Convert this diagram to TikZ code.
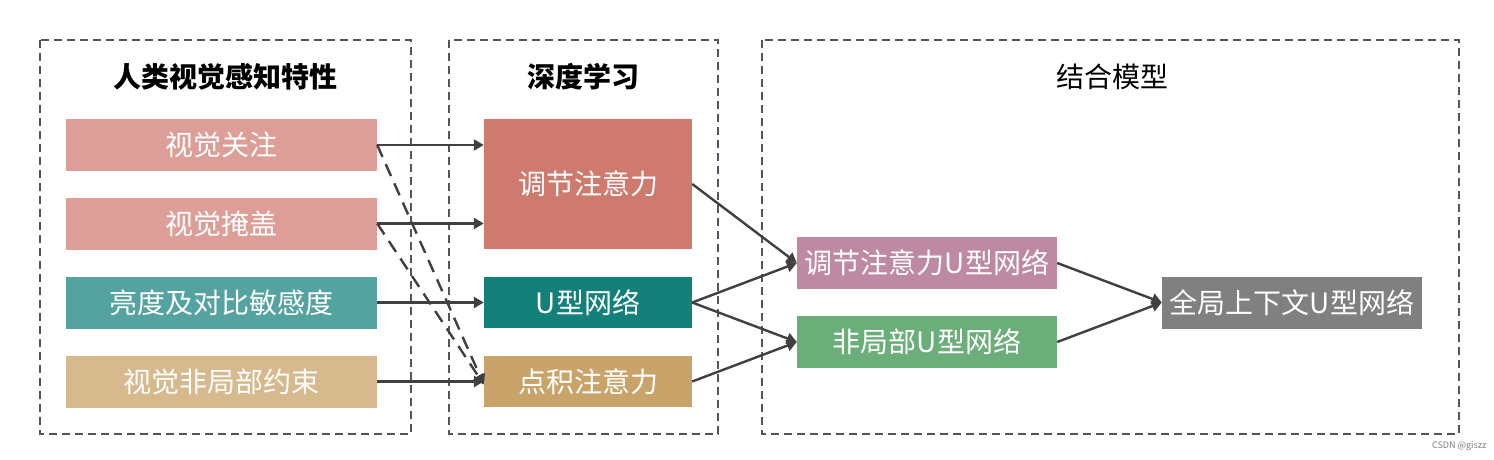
\documentclass[tikz,border=0pt]{standalone}
\usepackage{fontspec}
\setmainfont{Noto Sans CJK SC}
\usetikzlibrary{arrows.meta}
\definecolor{pinkA}{HTML}{DE9E98}
\definecolor{tealA}{HTML}{54A3A0}
\definecolor{tanA}{HTML}{D6B98C}
\definecolor{redB}{HTML}{CE7A6E}
\definecolor{tealB}{HTML}{138079}
\definecolor{tanB}{HTML}{C9A46A}
\definecolor{mauveC}{HTML}{BE8AA3}
\definecolor{greenC}{HTML}{6BAE79}
\definecolor{grayC}{HTML}{808080}
\definecolor{lineC}{HTML}{404040}
\definecolor{frameC}{HTML}{555555}
\tikzset{
  x=1pt,y=-1pt,
  frame/.style={draw=frameC,line width=1.4pt,dash pattern=on 8pt off 5pt},
  box/.style={inner sep=0pt,text=white,font=\fontsize{28}{32}\selectfont},
  lbox/.style={box,minimum width=311pt,minimum height=52pt},
  mbox/.style={box,minimum width=208pt,minimum height=51pt},
  rbox/.style={box,minimum width=260pt,minimum height=52pt},
  title/.style={font=\fontsize{28}{32}\selectfont},
  btitle/.style={font=\fontsize{28}{32}\selectfont\bfseries},
  conn/.style={draw=lineC,line width=2.4pt,-{Triangle[length=10pt,width=11pt]}},
  dconn/.style={conn,dash pattern=on 13pt off 8pt},
}
\begin{document}
\begin{tikzpicture}
\useasboundingbox (0,0) rectangle (1494,460);
\fill[white] (0,0) rectangle (1494,460);
% frames
\draw[frame] (40,40) rectangle (411,434);
\draw[frame] (449,40) rectangle (718,434);
\draw[frame] (762,40) rectangle (1459,434);
% titles
\node[btitle] (t1) at (225,77) {人类视觉感知特性};
\node[btitle] (t2) at (583,77) {深度学习};
\node[title] (t3) at (1112,77) {结合模型};
% left column
\node[lbox,fill=pinkA] (a1) at (221.5,145) {视觉关注};
\node[lbox,fill=pinkA] (a2) at (221.5,223.5) {视觉掩盖};
\node[lbox,fill=tealA] (a3) at (221.5,302.5) {亮度及对比敏感度};
\node[lbox,fill=tanA] (a4) at (221.5,381.5) {视觉非局部约束};
% middle column
\node[mbox,fill=redB,minimum height=130pt] (m1) at (588,184) {调节注意力};
\node[mbox,fill=tealB] (m2) at (588,302.5) {U型网络};
\node[mbox,fill=tanB] (m3) at (588,381.5) {点积注意力};
% right column
\node[rbox,fill=mauveC] (r1) at (927,263) {调节注意力U型网络};
\node[rbox,fill=greenC] (r2) at (927,342) {非局部U型网络};
\node[rbox,fill=grayC] (r3) at (1292,302.5) {全局上下文U型网络};
% connectors
\coordinate (m3in) at ([yshift=-3pt]m3.west);
\draw[dconn] (a1.east) -- (m3in);
\draw[dconn] (a2.east) -- (m3in);
\draw[conn] (a1.east) -- (a1.east -| m1.west);
\draw[conn] (a2.east) -- (a2.east -| m1.west);
\draw[conn] (a3.east) -- (m2.west);
\draw[conn] (a4.east) -- (m3.west);
\draw[conn] (m1.east) -- (r1.west);
\draw[conn] (m2.east) -- (r1.west);
\draw[conn] (m2.east) -- (r2.west);
\draw[conn] (m3.east) -- (r2.west);
\draw[conn] (r1.east) -- (r3.west);
\draw[conn] (r2.east) -- (r3.west);
% watermark
\node[text=gray,font=\fontsize{9}{10}\selectfont,anchor=east] (wm) at (1490,446) {CSDN @giszz};
\end{tikzpicture}
\end{document}
